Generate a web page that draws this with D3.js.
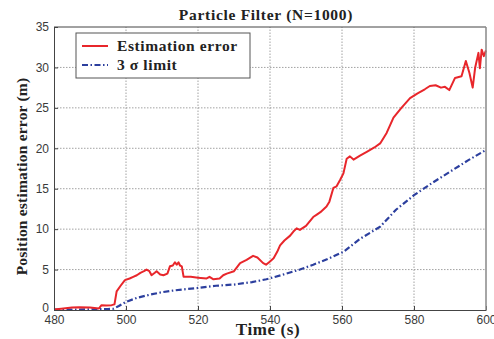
<!DOCTYPE html>
<html>
<head>
<meta charset="utf-8">
<script src="https://cdn.jsdelivr.net/npm/d3@7"></script>
<style>
  body { margin: 0; background: #fff; }
  svg { display: block; }
</style>
</head>
<body>
<div id="vis-container"></div>
<script>
const width = 494,
      height = 339,
      margin = {top: 27, bottom: 29, left: 54, right: 8};

// Estimation error (red)
var errTime = [480, 482, 485, 487, 490, 492.5, 493.2, 494.5, 496, 496.8, 497.4, 498.5, 499.7, 501, 502, 503, 504, 505, 505.7, 506.5, 507.1, 508, 508.5, 509.5, 510.4, 511.5, 512.2, 513, 513.6, 514.1, 514.6, 515, 515.5, 516, 518, 520, 522.4, 523.2, 524.3, 526, 527, 528, 530, 531.7, 533.5, 535.3, 536.5, 538.1, 538.9, 540, 541, 542, 542.8, 544, 545.6, 546.5, 547.4, 548.3, 550, 552, 553, 554, 555.7, 556.5, 557.6, 558.5, 559.5, 560.4, 561.3, 562.2, 563.2, 565, 567, 569, 570.6, 572.4, 574.3, 576.5, 578.9, 581, 583, 584.4, 586, 587.5, 588.6, 589.8, 591.4, 593.2, 594.4, 595.4, 596.3, 597, 597.9, 598.3, 598.8, 599.4, 600];
var errValue = [0.05, 0.15, 0.3, 0.35, 0.3, 0.2, 0.6, 0.55, 0.6, 0.7, 2.3, 3.0, 3.7, 3.9, 4.1, 4.3, 4.6, 4.8, 5.0, 4.8, 4.3, 4.6, 4.8, 4.4, 4.3, 4.5, 5.4, 5.5, 5.9, 5.6, 5.9, 5.5, 5.4, 4.1, 4.1, 4.0, 3.9, 4.1, 3.8, 3.9, 4.3, 4.5, 4.8, 5.8, 6.2, 6.7, 6.5, 5.8, 5.6, 6.0, 6.4, 7.2, 8.0, 8.6, 9.2, 9.7, 10.1, 9.9, 10.4, 11.5, 11.8, 12.1, 12.8, 13.4, 15.1, 15.3, 16.1, 16.9, 18.7, 19.0, 18.6, 19.1, 19.6, 20.1, 20.6, 21.9, 23.8, 25.0, 26.2, 26.8, 27.3, 27.7, 27.8, 27.5, 27.6, 27.2, 28.7, 28.9, 30.8, 29.3, 27.5, 30.0, 31.8, 29.9, 32.2, 31.4, 32.1];

// 3 sigma limit (blue)
var sigTime = [480, 485, 490, 493, 495, 496.5, 498, 500, 503, 506.7, 510, 513, 517, 520.6, 525, 530, 535, 539, 543, 548.3, 552, 556, 560.4, 565, 570.6, 575, 580, 585, 590, 595, 600];
var sigValue = [0.05, 0.05, 0.08, 0.1, 0.12, 0.15, 0.5, 1.0, 1.5, 1.9, 2.2, 2.4, 2.6, 2.75, 3.0, 3.15, 3.45, 3.8, 4.3, 5.0, 5.6, 6.3, 7.2, 8.8, 10.3, 12.4, 14.2, 15.7, 17.1, 18.5, 19.8];

var xTicks = [480, 500, 520, 540, 560, 580, 600];
var yTicks = [0, 5, 10, 15, 20, 25, 30, 35];

var legendLabels = ["Estimation error", "3 \u03c3 limit"];

const red = "#e8262b",
      blue = "#2c3f9e",
      serif = "'Liberation Serif', 'Times New Roman', serif",
      sans = "'Liberation Sans', Arial, sans-serif";

var svg = d3.select("#vis-container").append("svg")
    .attr("width", width)
    .attr("height", height);

var x = d3.scaleLinear().domain([480, 600]).range([margin.left, width - margin.right]);
var y = d3.scaleLinear().domain([0, 35]).range([height - margin.bottom, margin.top]);

// ******* Grid *******
svg.append("g").selectAll("line")
    .data(xTicks.slice(1, -1))
    .enter().append("line")
    .attr("x1", d => x(d)).attr("x2", d => x(d))
    .attr("y1", y(0)).attr("y2", y(35))
    .attr("stroke", "#8a8a8a").attr("stroke-width", 0.8)
    .attr("stroke-dasharray", "1.5,1.5");
svg.append("g").selectAll("line")
    .data(yTicks.slice(1, -1))
    .enter().append("line")
    .attr("x1", x(480)).attr("x2", x(600))
    .attr("y1", d => y(d)).attr("y2", d => y(d))
    .attr("stroke", "#8a8a8a").attr("stroke-width", 0.8)
    .attr("stroke-dasharray", "1.5,1.5");

// ******* Lines *******
var sigLine = d3.line().x((d, i) => x(sigTime[i])).y(d => y(d));
var errLine = d3.line().x((d, i) => x(errTime[i])).y(d => y(d));

svg.append("path")
    .attr("d", sigLine(sigValue))
    .attr("fill", "none")
    .attr("stroke", blue)
    .attr("stroke-width", 2.2)
    .attr("stroke-dasharray", "6,2.5,1.5,2.5");

svg.append("path")
    .attr("d", errLine(errValue))
    .attr("fill", "none")
    .attr("stroke", red)
    .attr("stroke-width", 2)
    .attr("stroke-linejoin", "round");

// ******* Axes *******
var xAxis = svg.append("g")
    .attr("transform", `translate(0 ${y(0)})`)
    .call(d3.axisBottom(x).tickValues(xTicks).tickSizeInner(-4).tickSizeOuter(0).tickPadding(5));
var yAxis = svg.append("g")
    .attr("transform", `translate(${x(480)} 0)`)
    .call(d3.axisLeft(y).tickValues(yTicks).tickSizeInner(-4).tickSizeOuter(0).tickPadding(5));
[xAxis, yAxis].forEach(function(g) {
    g.select(".domain").attr("stroke", "#444");
    g.selectAll(".tick line").attr("stroke", "#444");
    g.selectAll("text")
        .attr("font-family", sans)
        .attr("font-size", 12)
        .attr("fill", "#3a3a3a");
});
// 0 sits a bit above the corner so it does not run into 480
yAxis.selectAll(".tick text").filter(d => d === 0).attr("dy", "0.1em");

// frame top / right
svg.append("line")
    .attr("x1", x(480)).attr("x2", x(600)).attr("y1", y(35)).attr("y2", y(35))
    .attr("stroke", "#444");
svg.append("line")
    .attr("x1", x(600)).attr("x2", x(600)).attr("y1", y(35)).attr("y2", y(0))
    .attr("stroke", "#888").attr("stroke-width", 1.5);

// ******* Titles *******
svg.append("text")
    .attr("x", 266).attr("y", 20)
    .attr("text-anchor", "middle")
    .attr("font-family", serif).attr("font-weight", "bold").attr("font-size", 15.5)
    .attr("letter-spacing", 0.7)
    .attr("fill", "#222")
    .text("Particle Filter (N=1000)");

svg.append("text")
    .attr("x", 268).attr("y", 335)
    .attr("text-anchor", "middle")
    .attr("font-family", serif).attr("font-weight", "bold").attr("font-size", 17)
    .attr("letter-spacing", 0.6)
    .attr("fill", "#222")
    .text("Time (s)");

svg.append("text")
    .attr("transform", `translate(27 ${(y(0) + y(35)) / 2 + 8}) rotate(-90)`)
    .attr("text-anchor", "middle")
    .attr("font-family", serif).attr("font-weight", "bold").attr("font-size", 15.5)
    .attr("letter-spacing", 0.2)
    .attr("fill", "#222")
    .text("Position estimation error (m)");

// ******* Legend *******
var legend = svg.append("g");
legend.append("rect")
    .attr("x", 76).attr("y", 33).attr("width", 174).attr("height", 45)
    .attr("fill", "#fff").attr("stroke", "#555").attr("stroke-width", 1);

var legendColors = [red, blue],
    legendDash = [null, "6,2.5,1.5,2.5"];
legendLabels.forEach(function(label, i) {
    var ly = 46 + i * 19;
    legend.append("line")
        .attr("x1", 82).attr("x2", 108).attr("y1", ly).attr("y2", ly)
        .attr("stroke", legendColors[i]).attr("stroke-width", 2)
        .attr("stroke-dasharray", legendDash[i]);
    legend.append("text")
        .attr("x", 117).attr("y", ly + 5)
        .attr("font-family", serif).attr("font-weight", "bold").attr("font-size", 15.5)
        .attr("letter-spacing", 0.6)
        .attr("fill", "#222")
        .text(label);
});
</script>
</body>
</html>
